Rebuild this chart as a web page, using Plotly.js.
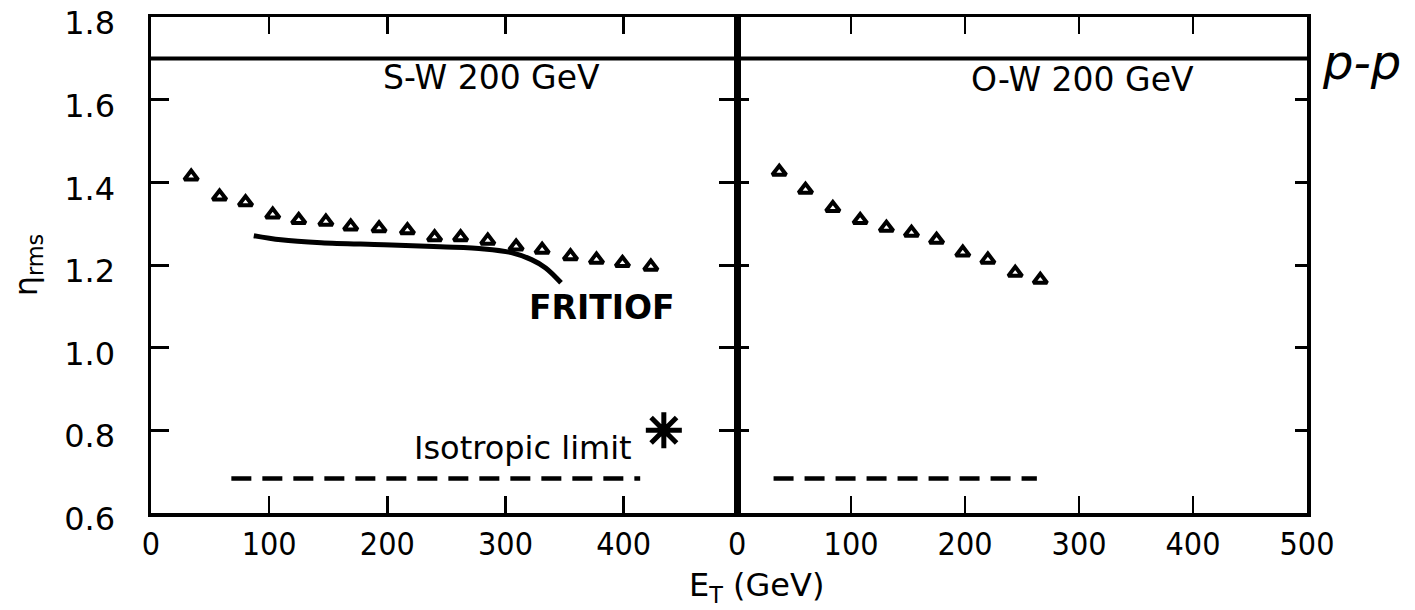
<!DOCTYPE html>
<html>
<head>
<meta charset="utf-8">
<script src="https://cdn.plot.ly/plotly-3.0.1.min.js"></script>
<style>html,body{margin:0;padding:0;background:#fff;}#chart{width:1415px;height:610px;}</style>
</head>
<body>
<div id="chart"></div>
<script>
// ---- data ----
const xTicksLeft = [0, 100, 200, 300, 400];
const xTicksRight = [0, 100, 200, 300, 400, 500];
const yTicks = [0.6, 0.8, 1.0, 1.2, 1.4, 1.6, 1.8];
const yTickText = ["0.6", "0.8", "1.0", "1.2", "1.4", "1.6", "1.8"];

// S-W 200 GeV (left panel)
const etSW = [34, 58, 80, 103, 125, 148, 169, 193, 217, 240, 262, 285, 309, 331, 355, 377, 399, 423];
const etaSW = [1.414, 1.366, 1.352, 1.322, 1.309, 1.305, 1.293, 1.289, 1.284, 1.267, 1.267, 1.259, 1.245, 1.237, 1.221, 1.213, 1.205, 1.196];

// O-W 200 GeV (right panel)
const etOW = [37, 60, 84, 108, 131, 153, 175, 198, 220, 244, 266];
const etaOW = [1.426, 1.382, 1.338, 1.309, 1.290, 1.278, 1.261, 1.230, 1.213, 1.181, 1.164];

// FRITIOF curve (left panel)
const etFritiof = [87, 110, 144, 197, 245, 282, 305, 322, 334, 347];
const etaFritiof = [1.271, 1.261, 1.254, 1.249, 1.244, 1.239, 1.230, 1.213, 1.193, 1.157];

// isotropic limit segments
const etIsoLeft = [68, 414];
const etIsoRight = [32, 263];
const etaIso = 0.683;

// p-p level
const etaPP = 1.70;
const etPPLeft = [0, 496];
const etPPRight = [0, 500];

// asterisk point
const etStar = [434];
const etaStar = [0.80];

// ---- drawing ----
const black = '#000';
const tri = {symbol: 'triangle-up-open', size: 12, color: black, line: {width: 4, color: black}};

const traces = [
  {x: etPPLeft, y: etPPLeft.map(() => etaPP), xaxis: 'x', yaxis: 'y', mode: 'lines', line: {color: black, width: 4}, hoverinfo: 'skip', showlegend: false},
  {x: etPPRight, y: etPPRight.map(() => etaPP), xaxis: 'x2', yaxis: 'y2', mode: 'lines', line: {color: black, width: 4}, hoverinfo: 'skip', showlegend: false},
  {x: etIsoLeft, y: etIsoLeft.map(() => etaIso), xaxis: 'x', yaxis: 'y', mode: 'lines', line: {color: black, width: 4.5, dash: '20px,11px'}, showlegend: false},
  {x: etIsoRight, y: etIsoRight.map(() => etaIso), xaxis: 'x2', yaxis: 'y2', mode: 'lines', line: {color: black, width: 4.5, dash: '20px,11px'}, showlegend: false},
  {x: etFritiof, y: etaFritiof, xaxis: 'x', yaxis: 'y', mode: 'lines', line: {color: black, width: 5, shape: 'spline'}, showlegend: false},
  {x: etSW, y: etaSW, xaxis: 'x', yaxis: 'y', mode: 'markers', marker: tri, showlegend: false},
  {x: etOW, y: etaOW, xaxis: 'x2', yaxis: 'y2', mode: 'markers', marker: tri, showlegend: false},
  {x: etStar, y: etaStar, xaxis: 'x', yaxis: 'y', mode: 'markers', marker: {symbol: 'asterisk-open', size: 30, color: black, line: {width: 5, color: black}}, showlegend: false}
];

const narrow = 'Liberation Sans Narrow, DejaVu Sans Condensed, Liberation Sans, sans-serif';
const sans = 'DejaVu Sans, sans-serif';

const xCommon = {
  ticks: 'inside', ticklen: 17, tickwidth: 2.5, tickcolor: black,
  showline: true, linecolor: black, linewidth: 3.5, mirror: 'ticks',
  showgrid: false, zeroline: false,
  tickfont: {family: narrow, size: 32, color: black},
  ticklabelstandoff: 0, ticklabeloverflow: 'allow'
};
const yCommon = {
  range: [0.5995, 1.8005], tickvals: yTicks, ticktext: yTickText,
  ticks: 'inside', tickwidth: 3, tickcolor: black,
  showline: true, linecolor: black, linewidth: 3.5, mirror: 'ticks',
  showgrid: false, zeroline: false, ticklabeloverflow: 'allow'
};

const ann = (text, x, y, xref, yref, font) => ({text, x, y, xref, yref, xanchor: 'center', yanchor: 'middle', showarrow: false, font});

const layout = {
  width: 1415, height: 610,
  margin: {l: 151, r: 108, t: 17, b: 97},
  paper_bgcolor: '#fff', plot_bgcolor: '#fff',
  font: {family: sans, color: black},
  showlegend: false,
  xaxis: Object.assign({}, xCommon, {domain: [0, 0.507], range: [0, 496], tickvals: xTicksLeft, anchor: 'y'}),
  xaxis2: Object.assign({}, xCommon, {domain: [0.507, 1], range: [0, 500], tickvals: xTicksRight, anchor: 'y2'}),
  yaxis: Object.assign({}, yCommon, {anchor: 'x', ticklen: 18,
    tickfont: {family: sans, size: 32, color: black}, ticklabelstandoff: 26, ticklabelshift: 6,
    title: {text: 'η<sub>rms</sub>', font: {family: sans, size: 32, color: black}, standoff: 18}}),
  yaxis2: Object.assign({}, yCommon, {anchor: 'x2', ticklen: 12, showticklabels: false}),
  annotations: [
    ann('S-W 200 GeV', 288, 1.653, 'x', 'y', {family: sans, size: 33, color: black}),
    ann('O-W 200 GeV', 303, 1.648, 'x2', 'y2', {family: sans, size: 33, color: black}),
    ann('<b>FRITIOF</b>', 382, 1.096, 'x', 'y', {family: sans, size: 33, color: black}),
    ann('Isotropic limit', 315, 0.757, 'x', 'y', {family: sans, size: 32, color: black}),
    ann('<i>p-p</i>', 1.047, 0.91, 'paper', 'paper', {family: sans, size: 48, color: black}),
    ann('E<sub>T</sub> (GeV)', 0.524, -0.15, 'paper', 'paper', {family: sans, size: 32, color: black})
  ]
};

Plotly.newPlot('chart', traces, layout, {staticPlot: true, displayModeBar: false});
</script>
</body>
</html>
